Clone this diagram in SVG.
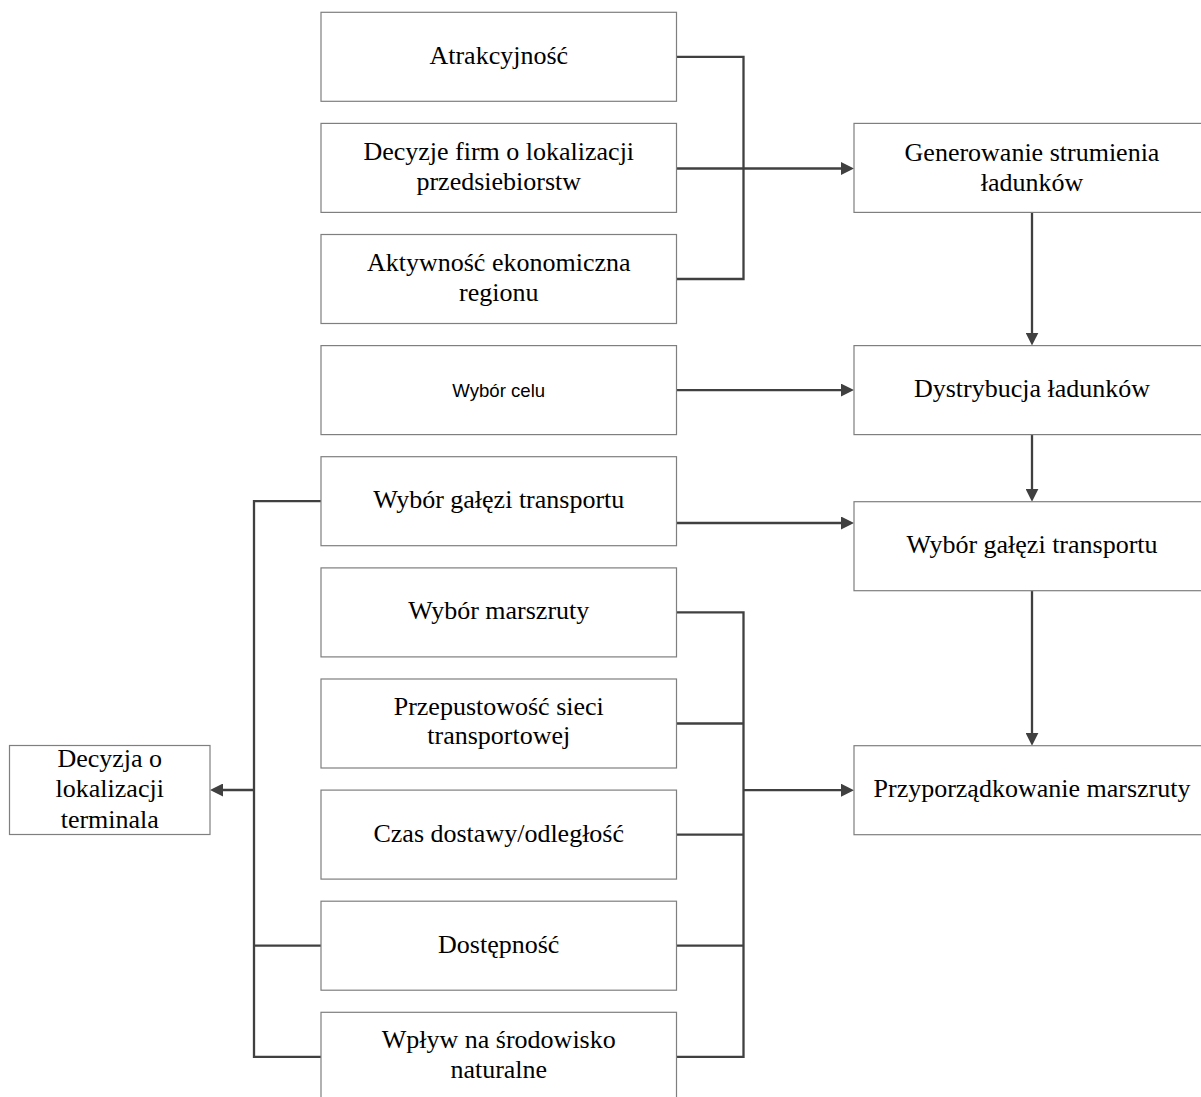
<svg xmlns="http://www.w3.org/2000/svg" width="1201" height="1097" viewBox="0 0 1201 1097">
<defs>
<style>
.box{fill:#fff;stroke:#7f7f7f;stroke-width:1.2}
.t{font-family:"Liberation Serif","Times New Roman",serif;font-size:26px;fill:#000;text-anchor:middle}
.s{font-family:"Liberation Sans",Arial,sans-serif;font-size:18.6px;fill:#000;text-anchor:middle}
.c{fill:none;stroke:#404040;stroke-width:2.3}
</style>
<marker id="ah" markerUnits="userSpaceOnUse" markerWidth="13" markerHeight="13" refX="9" refY="6.5" orient="auto">
<path d="M0,0 L13,6.5 L0,13 z" fill="#404040"/>
</marker>
</defs>
<rect width="1201" height="1097" fill="#fff"/>
<g id="connectors">
<path class="c" d="M676.5,56.8 H743.5 V279 H676.5"/>
<path class="c" d="M676.5,168.5 H850" marker-end="url(#ah)"/>
<path class="c" d="M676.5,390.1 H850" marker-end="url(#ah)"/>
<path class="c" d="M676.5,523 H850" marker-end="url(#ah)"/>
<path class="c" d="M1032,212.4 V341.6" marker-end="url(#ah)"/>
<path class="c" d="M1032,434.6 V497.7" marker-end="url(#ah)"/>
<path class="c" d="M1032,590.7 V741.7" marker-end="url(#ah)"/>
<path class="c" d="M676.5,612.4 H743.5 V1056.8 H676.5"/>
<path class="c" d="M676.5,723.5 H743.5"/>
<path class="c" d="M676.5,834.6 H743.5"/>
<path class="c" d="M676.5,945.7 H743.5"/>
<path class="c" d="M743.5,790.2 H850" marker-end="url(#ah)"/>
<path class="c" d="M321,501.2 H254 V1056.8 H321"/>
<path class="c" d="M321,945.7 H254"/>
<path class="c" d="M254,790 H214" marker-end="url(#ah)"/>
</g>
<g id="n-atrakcyjnosc"><rect class="box" x="321" y="12.3" width="355.5" height="89"/><text class="t" x="498.75" y="64">Atrakcyjność</text></g>
<g id="n-decyzje-firm"><rect class="box" x="321" y="123.4" width="355.5" height="89"/><text class="t" x="498.75" y="160">Decyzje firm o lokalizacji</text><text class="t" x="498.75" y="190">przedsiebiorstw</text></g>
<g id="n-aktywnosc"><rect class="box" x="321" y="234.5" width="355.5" height="89"/><text class="t" x="498.75" y="271">Aktywność ekonomiczna</text><text class="t" x="498.75" y="301">regionu</text></g>
<g id="n-wybor-celu"><rect class="box" x="321" y="345.6" width="355.5" height="89"/><text class="s" x="498.75" y="397">Wybór celu</text></g>
<g id="n-wybor-galezi-l"><rect class="box" x="321" y="456.7" width="355.5" height="89"/><text class="t" x="498.75" y="508.3">Wybór gałęzi transportu</text></g>
<g id="n-wybor-marszruty"><rect class="box" x="321" y="567.9" width="355.5" height="89"/><text class="t" x="498.75" y="619.4">Wybór marszruty</text></g>
<g id="n-przepustowosc"><rect class="box" x="321" y="679" width="355.5" height="89"/><text class="t" x="498.75" y="715">Przepustowość sieci</text><text class="t" x="498.75" y="744">transportowej</text></g>
<g id="n-czas"><rect class="box" x="321" y="790.1" width="355.5" height="89"/><text class="t" x="498.75" y="841.6">Czas dostawy/odległość</text></g>
<g id="n-dostepnosc"><rect class="box" x="321" y="901.2" width="355.5" height="89"/><text class="t" x="498.75" y="952.7">Dostępność</text></g>
<g id="n-wplyw"><rect class="box" x="321" y="1012.3" width="355.5" height="89"/><text class="t" x="498.75" y="1048">Wpływ na środowisko</text><text class="t" x="498.75" y="1078">naturalne</text></g>
<g id="n-generowanie"><rect class="box" x="854" y="123.4" width="356" height="89"/><text class="t" x="1032" y="161">Generowanie strumienia</text><text class="t" x="1032" y="191">ładunków</text></g>
<g id="n-dystrybucja"><rect class="box" x="854" y="345.6" width="356" height="89"/><text class="t" x="1032" y="397">Dystrybucja ładunków</text></g>
<g id="n-wybor-galezi-r"><rect class="box" x="854" y="501.7" width="356" height="89"/><text class="t" x="1032" y="553">Wybór gałęzi transportu</text></g>
<g id="n-przyporzadkowanie"><rect class="box" x="854" y="745.7" width="356" height="89"/><text class="t" x="1032" y="797">Przyporządkowanie marszruty</text></g>
<g id="n-decyzja-terminal"><rect class="box" x="9.5" y="745.5" width="200.5" height="89"/><text class="t" x="109.75" y="767">Decyzja o</text><text class="t" x="109.75" y="797.3">lokalizacji</text><text class="t" x="109.75" y="827.6">terminala</text></g>
</svg>
